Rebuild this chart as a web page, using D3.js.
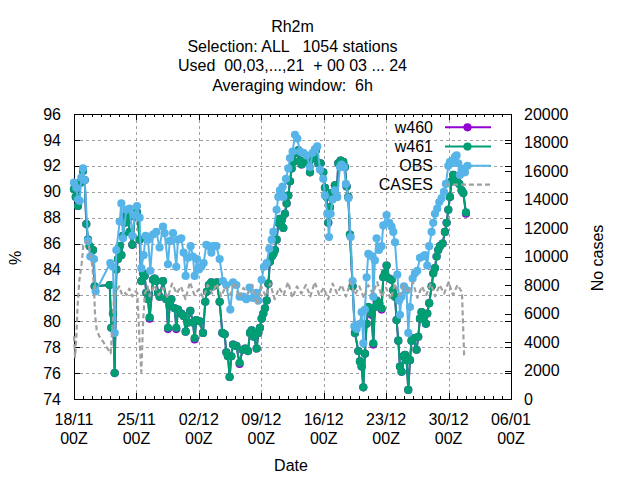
<!DOCTYPE html>
<html><head><meta charset="utf-8">
<script src="https://cdn.jsdelivr.net/npm/d3@7"></script>
<style>
body{margin:0;background:#fff}
text{font-family:"Liberation Sans",Arial,sans-serif;font-size:16px;fill:#000}
</style>
</head><body>
<svg id="chart" width="640" height="480"></svg>
<script>
// ---------------- data ----------------
const titleLines = ["Rh2m", "Selection: ALL   1054 stations", "Used  00,03,...,21  + 00 03 ... 24", "Averaging window:  6h"];
const startDate = "2023-11-18";
const xTickDates = ["2023-11-18","2023-11-25","2023-12-02","2023-12-09","2023-12-16","2023-12-23","2023-12-30","2024-01-06"];
const xTickLabels = ["18/11","25/11","02/12","09/12","16/12","23/12","30/12","06/01"];
const yTicks = [74,76,78,80,82,84,86,88,90,92,94,96];
const y2Ticks = [0,2000,4000,6000,8000,10000,12000,14000,16000,18000,20000];
const seriesNames = ["w460","w461","OBS","CASES"];
const seriesColors = ["#9400d3","#009e73","#56b4e9","#a0a0a0"];

// days since 18/11 00Z
const obsDays = [0.0,0.26,0.45,0.64,0.82,1.01,1.2,1.57,1.83,2.24,2.43,4.07,4.37,4.56,4.75,5.12,5.31,5.49,5.87,6.24,6.54,6.8,7.06,7.36,7.55,7.81,8.03,8.3,8.56,8.86,9.23,9.6,9.98,10.16,10.54,10.73,11.1,11.47,11.66,12.03,12.29,12.52,12.78,13.08,13.34,13.53,13.79,14.01,14.28,14.54,14.84,15.13,15.4,15.66,15.96,16.33,16.7,17.08,17.53,17.83,18.2,18.57,18.95,19.32,19.69,20.07,20.44,20.67,21.04,21.3,21.6,21.9,22.16,22.35,22.72,22.91,23.09,23.39,23.47,23.77,24.03,24.22,24.51,24.78,25.04,25.34,25.71,26.08,26.46,26.76,27.02,27.28,27.58,27.95,28.14,28.4,28.59,28.77,29.0,29.26,29.52,29.82,30.0,30.27,30.49,30.76,31.02,31.24,31.43,31.69,32.06,32.25,32.44,32.62,32.81,33.0,33.18,33.45,33.56,33.74,33.93,34.19,34.49,34.68,35.05,35.35,35.61,35.8,35.99,36.25,36.47,36.55,36.73,37.0,37.29,37.48,37.67,37.97,38.23,38.49,38.79,39.09,39.35,39.61,39.83,40.1,40.28,40.47,40.73,40.96,41.22,41.48,41.7,41.97,42.16,42.45,42.72,42.9,43.09,43.28,43.46,43.84];
const obsVals = [90.7,90.3,89.4,89.3,91.1,91.8,90.9,86.2,85.0,84.8,82.3,84.5,84.2,79.1,85.5,87.7,89.1,86.4,88.6,88.7,86.6,88.2,88.9,88.0,84.1,85.1,86.6,86.3,83.9,86.7,86.9,85.7,87.3,86.8,84.4,86.2,86.8,84.2,86.3,86.4,85.3,83.5,84.9,85.8,85.0,83.5,84.8,84.0,84.2,84.5,85.9,85.8,85.3,85.8,85.8,84.8,83.1,82.8,80.9,83.0,82.8,81.9,81.9,81.7,82.6,81.8,82.2,81.6,83.2,84.2,84.5,85.6,86.3,86.9,88.6,89.6,90.1,90.4,89.6,91.0,91.8,92.6,93.1,94.4,94.1,93.1,93.0,92.8,91.9,93.0,93.3,93.5,91.7,91.0,89.7,88.3,86.5,88.3,89.4,90.1,89.6,91.9,92.1,91.9,90.6,89.5,86.5,83.1,79.6,79.4,79.8,80.7,78.3,80.9,83.4,85.2,85.1,85.0,81.9,84.7,86.4,85.5,85.8,87.4,88.2,87.6,87.3,86.9,86.1,83.6,81.6,80.5,81.9,82.7,82.4,79.1,81.1,83.3,83.7,83.9,84.9,85.0,85.1,84.3,85.8,86.9,87.6,88.3,88.7,89.2,89.5,90.0,90.6,92.0,92.3,92.4,92.7,92.8,92.2,91.3,91.7,91.5];

const fcDays = [0.0,0.2,0.45,0.71,1.01,1.2,1.38,1.57,1.76,2.13,2.32,4.0,4.19,4.37,4.56,4.75,4.93,5.12,5.31,5.49,5.68,5.87,6.05,6.24,6.54,6.8,7.06,7.36,7.55,7.74,7.92,8.11,8.3,8.48,8.86,9.04,9.23,9.42,9.6,9.98,10.35,10.54,10.73,10.91,11.29,11.47,11.66,12.03,12.29,12.52,12.78,13.04,13.34,13.53,13.71,14.09,14.46,14.72,14.91,15.13,15.4,15.58,15.77,16.03,16.33,16.63,16.89,17.08,17.26,17.45,17.64,17.83,18.2,18.57,18.9,19.2,19.51,19.73,19.92,20.18,20.48,20.67,20.85,21.04,21.23,21.41,21.6,21.79,21.97,22.16,22.35,22.53,22.72,22.91,23.09,23.28,23.47,23.65,23.84,24.03,24.22,24.4,24.59,24.96,25.15,25.34,25.52,25.9,26.27,26.46,26.83,27.13,27.39,27.65,27.95,28.14,28.33,28.51,28.7,28.89,29.26,29.45,29.63,29.9,30.19,30.38,30.57,30.76,30.94,31.24,31.5,31.88,32.06,32.25,32.44,32.62,32.81,33.0,33.18,33.37,33.56,33.74,33.93,34.23,34.49,34.68,34.86,35.05,35.35,35.61,35.8,35.99,36.17,36.36,36.55,36.73,36.92,37.11,37.29,37.48,37.67,37.85,38.04,38.41,38.6,38.79,38.97,39.16,39.46,39.61,39.83,40.1,40.28,40.47,40.66,40.84,41.03,41.33,41.59,41.78,41.97,42.15,42.34,42.53,42.72,42.9,43.2,43.46,43.65,43.95];
const w461Vals = [90.2,89.6,88.9,90.7,91.6,90.9,87.5,86.3,85.8,85.5,82.7,82.8,79.5,80.6,76.0,84.0,84.8,85.8,85.1,86.6,87.6,88.2,87.8,86.9,85.9,88.1,88.4,86.3,83.1,83.7,83.5,82.2,81.7,80.3,83.2,83.3,83.1,82.2,81.9,83.1,81.7,79.5,81.2,81.7,81.0,79.5,80.9,80.6,80.4,79.2,79.9,80.8,79.9,78.7,80.1,80.0,79.1,81.5,82.3,82.8,83.0,82.7,82.8,83.0,81.5,79.1,79.0,77.6,77.3,75.7,77.3,78.2,78.1,76.8,77.8,77.9,77.7,79.1,79.3,78.8,77.9,79.1,79.5,80.2,80.6,81.0,81.6,82.9,84.6,85.0,85.2,85.5,86.3,87.6,87.9,87.8,87.2,88.3,89.1,89.7,90.8,91.8,92.3,93.0,93.2,92.4,92.1,92.3,92.4,91.5,92.6,93.2,92.2,92.2,91.5,90.3,89.6,87.6,88.8,89.9,90.5,89.6,92.2,92.4,92.3,91.9,90.4,89.6,86.7,82.7,79.1,77.7,76.9,76.5,74.9,77.5,79.8,81.1,81.0,80.6,78.3,81.1,81.6,81.4,81.0,83.4,83.7,84.3,83.3,83.2,82.4,81.9,80.1,78.5,76.5,76.1,77.3,77.4,77.0,74.7,77.0,78.5,78.7,77.8,78.8,80.2,80.7,80.3,79.8,80.6,81.4,82.7,83.7,84.1,85.0,85.5,85.8,86.0,86.9,87.6,88.6,89.6,90.8,91.3,90.8,90.9,90.6,90.1,89.9,88.4];
const w460Vals = [90.2,89.6,88.9,90.7,91.6,90.9,87.5,86.3,85.8,85.5,82.7,82.8,79.5,80.6,76.0,84.0,84.8,85.8,85.1,86.6,87.6,88.2,87.8,86.9,85.9,88.1,88.4,86.3,83.1,83.7,83.5,82.2,81.7,80.2,83.2,83.3,83.1,82.2,81.9,83.1,81.7,79.4,81.2,81.7,81.0,79.4,80.9,80.6,80.4,79.2,79.9,80.8,79.9,78.6,80.1,80.0,79.1,81.5,82.3,82.8,83.0,82.7,82.8,83.0,81.5,79.1,79.0,77.6,77.3,75.7,77.3,78.2,78.1,76.7,77.8,77.9,77.7,79.1,79.3,78.8,77.9,79.1,79.5,80.2,80.6,81.0,81.6,82.9,84.6,85.0,85.2,85.5,86.3,87.6,87.9,87.8,87.2,88.3,89.1,89.7,90.8,91.8,92.3,93.0,93.2,92.4,92.1,92.3,92.4,91.5,92.6,93.2,92.2,92.2,91.5,90.3,89.6,87.6,88.8,89.9,90.5,89.6,92.2,92.4,92.3,91.9,90.4,89.6,86.7,82.7,79.1,77.7,76.9,76.5,74.9,77.5,79.8,81.1,81.0,80.5,78.2,81.1,81.6,81.4,80.9,83.4,83.7,84.3,83.3,83.2,82.4,81.9,80.1,78.5,76.5,76.1,77.3,77.4,77.0,74.7,77.0,78.5,78.7,77.8,78.8,80.2,80.7,80.3,79.8,80.6,81.4,82.7,83.7,84.1,85.0,85.5,85.8,86.0,86.9,87.6,88.6,89.6,90.8,91.3,90.8,90.9,90.6,90.1,89.9,88.3];

const casesDays = [0.0,0.12,0.25,0.4,0.6,0.86,1.05,1.35,1.61,1.98,2.24,2.35,2.54,2.84,3.29,3.85,4.11,4.33,4.48,4.78,5.08,5.34,5.6,5.9,6.2,6.55,6.85,7.1,7.35,7.55,7.75,7.95,8.25,8.5,9.0,9.5,10.0,10.5,11.0,11.5,12.0,12.5,13.0,13.5,14.0,14.5,15.0,15.5,16.0,16.5,17.0,17.5,18.0,18.5,19.0,19.5,20.0,20.5,21.0,21.5,22.0,22.5,23.0,23.5,24.0,24.5,25.0,25.5,26.0,26.5,27.0,27.5,28.0,28.5,29.0,29.5,30.0,30.5,31.0,31.5,32.0,32.5,33.0,33.5,34.0,34.5,35.0,35.5,36.0,36.5,37.0,37.5,38.0,38.5,39.0,39.5,40.0,40.5,41.0,41.5,42.0,42.5,43.0,43.5,43.75];
const casesVals = [4400,2950,4200,6500,8350,9500,10800,11100,10950,9750,7900,6000,4850,4400,4000,3450,3200,5300,6950,7650,7900,7400,7550,7300,7750,7200,7550,7450,4100,1900,5500,7400,7900,7200,8000,7300,7800,7100,8100,7400,7900,7000,8200,7300,7700,7100,8000,7400,8100,7200,7900,7300,8200,7100,7800,7400,8000,6600,7900,7200,8100,7000,7800,7300,8200,7100,7900,7400,8000,7200,8200,7300,7800,7000,8100,7400,8000,7200,8200,7300,7900,7100,8000,7400,8200,7200,7800,7000,8100,7300,8000,7400,8200,7100,7900,7300,8100,7200,8000,7400,8200,7300,8000,7500,2900];

// ---------------- layout ----------------
const L = 74, R = 511, T = 114, B = 399;
const DAY = 86400000;
const t0 = new Date(startDate + "T00:00:00Z").getTime();
const toDate = d => new Date(t0 + d * DAY);

const svg = d3.select("#chart");
svg.append("rect").attr("width",640).attr("height",480).attr("fill","#fff");

const x = d3.scaleUtc().domain([new Date(xTickDates[0]+"T00:00:00Z"), new Date(xTickDates[xTickDates.length-1]+"T00:00:00Z")]).range([L, R]);
const y = d3.scaleLinear().domain([74, 96]).range([B, T]);
const y2 = d3.scaleLinear().domain([0, 20000]).range([B, T]);
const majors = xTickDates.map(s => new Date(s + "T00:00:00Z"));
const minors = d3.utcDay.range(x.domain()[0], x.domain()[1]);

// grid
const gridCol = "#a0a0a0";
svg.append("g").attr("transform", `translate(${L},0)`)
  .call(d3.axisLeft(y).tickValues(yTicks.slice(1, -1)).tickSize(-(R - L)).tickFormat(""))
  .call(g => g.select(".domain").remove())
  .selectAll("line").attr("stroke", gridCol).attr("stroke-dasharray", "3,3").attr("shape-rendering","crispEdges");
svg.append("g").attr("transform", `translate(0,${B})`)
  .call(d3.axisBottom(x).tickValues(majors.slice(1, -1)).tickSize(-(B - T)).tickFormat(""))
  .call(g => g.select(".domain").remove())
  .selectAll("line").attr("stroke", gridCol).attr("stroke-dasharray", "3,3").attr("shape-rendering","crispEdges");

// ticks (inward, mirrored)
function ticks(axis) {
  return g => { g.call(axis); g.select(".domain").remove(); g.selectAll("line").attr("stroke","#000").attr("shape-rendering","crispEdges"); g.selectAll("text").remove(); };
}
svg.append("g").attr("transform", `translate(0,${B})`).call(ticks(d3.axisBottom(x).tickValues(minors).tickSize(-3)));
svg.append("g").attr("transform", `translate(0,${B})`).call(ticks(d3.axisBottom(x).tickValues(majors).tickSize(-6)));
svg.append("g").attr("transform", `translate(0,${T})`).call(ticks(d3.axisTop(x).tickValues(minors).tickSize(-3)));
svg.append("g").attr("transform", `translate(0,${T})`).call(ticks(d3.axisTop(x).tickValues(majors).tickSize(-6)));
svg.append("g").attr("transform", `translate(${L},0)`).call(ticks(d3.axisLeft(y).tickValues(yTicks).tickSize(-6)));
svg.append("g").attr("transform", `translate(${R},0)`).call(ticks(d3.axisRight(y).tickValues(yTicks).tickSize(-6)));
svg.append("g").attr("transform", `translate(${R},0)`).call(ticks(d3.axisRight(y2).tickValues(y2Ticks).tickSize(-6)));

// frame
svg.append("rect").attr("x", L).attr("y", T).attr("width", R - L).attr("height", B - T)
  .attr("fill", "none").attr("stroke", "#000").attr("shape-rendering","crispEdges");

// tick labels
svg.append("g").selectAll("text").data(yTicks).join("text")
  .attr("x", L - 13).attr("y", d => y(d)).attr("dy", "0.35em").attr("text-anchor", "end").text(d => d);
svg.append("g").selectAll("text").data(y2Ticks).join("text")
  .attr("x", R + 13).attr("y", d => y2(d)).attr("dy", "0.35em").attr("text-anchor", "start").text(d => d);
const xl = svg.append("g").selectAll("text").data(majors).join("text")
  .attr("text-anchor", "middle");
xl.append("tspan").attr("x", d => x(d)).attr("y", 425).text((d, i) => xTickLabels[i]);
xl.append("tspan").attr("x", d => x(d)).attr("y", 443.5).text("00Z");

// axis titles
svg.append("text").attr("x", 291).attr("y", 471).attr("text-anchor", "middle").text("Date");
svg.append("text").attr("transform", "translate(21,258) rotate(-90)").attr("text-anchor", "middle").text("%");
svg.append("text").attr("transform", "translate(603,258) rotate(-90)").attr("text-anchor", "middle").text("No cases");

// title
svg.append("g").selectAll("text").data(titleLines).join("text")
  .attr("x", 292.5).attr("y", (d, i) => 32 + i * 19.6).attr("text-anchor", "middle")
  .attr("xml:space","preserve").style("white-space","pre").text(d => d);

// series
const line = d3.line().x(d => x(d.t)).y(d => d.yv);
const R_MARK = 4.1;
function series(days, vals, color, scale, markers, dash) {
  const pts = days.map((d, i) => ({ t: toDate(d), yv: scale(vals[i]) }));
  const g = svg.append("g");
  g.append("path").datum(pts).attr("d", line).attr("fill", "none").attr("stroke", color)
    .attr("stroke-width", dash ? 2.2 : 2).attr("stroke-linejoin", "round")
    .attr("stroke-dasharray", dash || null);
  if (markers) {
    g.selectAll("circle").data(pts).join("circle").attr("cx", d => x(d.t)).attr("cy", d => d.yv)
      .attr("r", R_MARK).attr("fill", color);
  }
}
series(fcDays, w460Vals, seriesColors[0], y, true);
series(fcDays, w461Vals, seriesColors[1], y, true);
series(obsDays, obsVals, seriesColors[2], y, true);
series(casesDays, casesVals, seriesColors[3], y2, false, "5,3");

// legend
const legY = [127.3, 146.6, 165.8, 184.6];
const lg = svg.append("g");
seriesNames.forEach((n, i) => {
  lg.append("text").attr("x", 433).attr("y", legY[i]).attr("dy", "0.35em").attr("text-anchor", "end").text(n);
  lg.append("line").attr("x1", 445).attr("x2", 491).attr("y1", legY[i]).attr("y2", legY[i])
    .attr("stroke", seriesColors[i]).attr("stroke-width", i === 3 ? 2.2 : 2)
    .attr("stroke-dasharray", i === 3 ? "5,3" : null);
  if (i < 3) lg.append("circle").attr("cx", 467.5).attr("cy", legY[i]).attr("r", R_MARK).attr("fill", seriesColors[i]);
});
</script>
</body></html>
